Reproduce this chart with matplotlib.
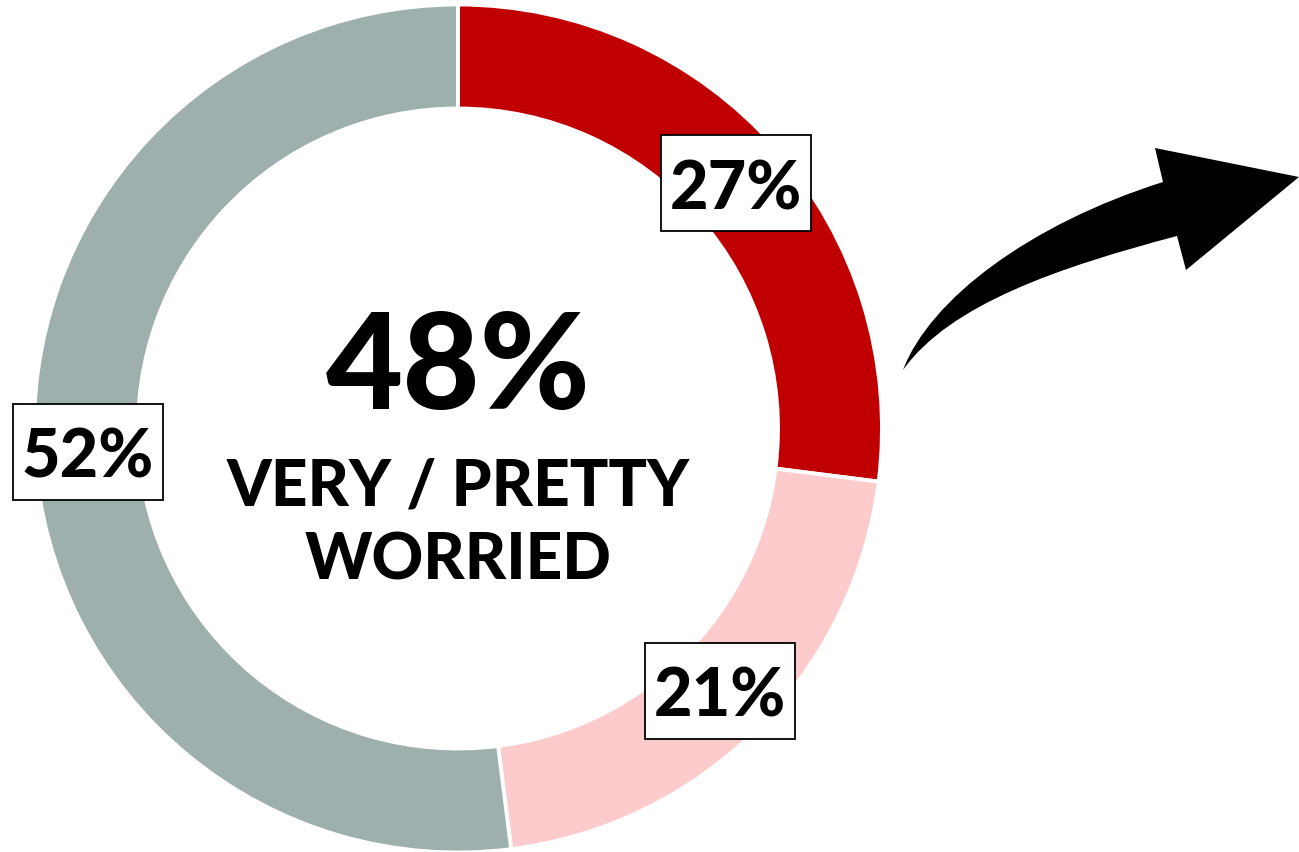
import matplotlib
matplotlib.use("Agg")
import matplotlib.pyplot as plt
from matplotlib.path import Path
import matplotlib.patches as mpatches

# ---- data ----
categories = ["Very worried", "Pretty worried", "Not worried"]
values = [27, 21, 52]
colors = ["#C00000", "#FDCBCB", "#9DB0AE"]
headline = "48%"
subtitle_lines = ["VERY / PRETTY", "WORRIED"]

W, H = 1299, 853
plt.rcParams['font.family'] = ['Lato', 'DejaVu Sans']

fig = plt.figure(figsize=(W / 100, H / 100), dpi=100)
ax = fig.add_axes([0, 0, 1, 1])

cx, cy = 458, H - 429.5
R = 424
ring = 104

wedges, texts, autotexts = ax.pie(
    values, colors=colors, startangle=90, counterclock=False,
    center=(cx, cy), radius=R, frame=True,
    autopct=lambda p: f"{p:.0f}%", pctdistance=0.875,
    wedgeprops=dict(width=ring, edgecolor="white", linewidth=2.8),
    textprops=dict(fontsize=48, fontweight="black", color="black", zorder=5),
)
box_w, box_h = 150, 96
for t in autotexts:
    x, y = t.get_position()
    ax.add_patch(mpatches.Rectangle((x - box_w / 2, y - box_h / 2), box_w, box_h,
                                    facecolor="white", edgecolor="black",
                                    linewidth=1.3, zorder=4))
    t.set_va("center_baseline")

ax.set_xlim(0, W)
ax.set_ylim(0, H)
ax.set_aspect("equal")
ax.axis("off")

ax.text(cx, H - 409, headline, ha="center", va="baseline",
        fontsize=96, fontweight="black")
ax.text(cx, H - 506, subtitle_lines[0], ha="center", va="baseline",
        fontsize=46, fontweight="black")
ax.text(cx, H - 580, subtitle_lines[1], ha="center", va="baseline",
        fontsize=46, fontweight="black")

# ---- decorative curved arrow ----
def p(x, y):
    return (x, H - y)

verts = [p(903, 371),
         p(930, 300), p(1030, 225), p(1163, 183),
         p(1155, 149), p(1299, 178), p(1186, 271), p(1177, 237),
         p(1060, 268), p(950, 305), p(903, 371)]
codes = [Path.MOVETO,
         Path.CURVE4, Path.CURVE4, Path.CURVE4,
         Path.LINETO, Path.LINETO, Path.LINETO, Path.LINETO,
         Path.CURVE4, Path.CURVE4, Path.CURVE4]
ax.add_patch(mpatches.PathPatch(Path(verts, codes), facecolor="black",
                                edgecolor="none"))

fig.savefig("out.png", dpi=100, facecolor="white")
